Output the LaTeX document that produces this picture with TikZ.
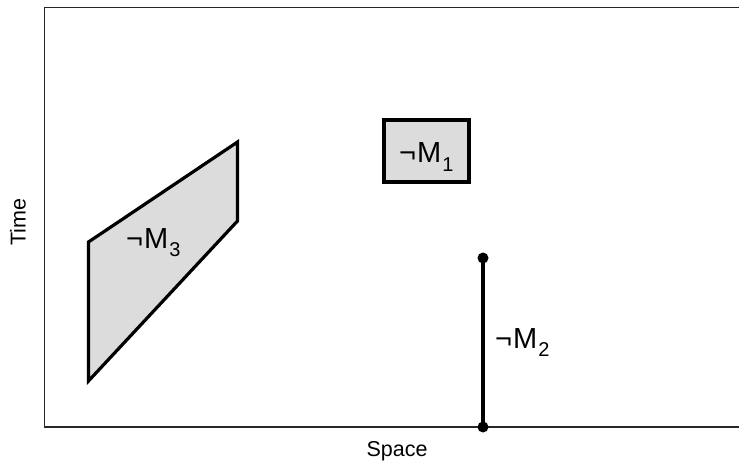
\documentclass[tikz,border=0pt]{standalone}
\usepackage{fontspec}
\setmainfont{Liberation Sans}
\usetikzlibrary{math}
\definecolor{mygray}{RGB}{220,220,220}
\newcommand{\negM}[1]{¬\kern1pt M\kern1pt\raisebox{-0.3em}{\fontsize{20}{20}\selectfont #1}}

\begin{document}
\begin{tikzpicture}[x=1pt,y=-1pt,
  region/.style={draw=black,fill=mygray,line width=3.2pt,line join=miter},
  lab/.style={anchor=base west,inner sep=0pt,font=\fontsize{29}{29}\selectfont},
  axislab/.style={inner sep=0pt,font=\fontsize{21.5}{21.5}\selectfont}]
\tikzmath{
\xl=44.5;%frame left
\yt=7.5;%frame top
\yb=427;%frame bottom
\xr=739;
}
\useasboundingbox (0,0) rectangle (739,465);

% frame
\draw[line width=1.6pt,color=black!85] (\xr,\yt) -- (\xl,\yt) -- (\xl,\yb) -- (\xr,\yb);
\node[axislab,rotate=90] (time) at (18,222) {Time};
\node[axislab] (space) at (397,451) {Space};

% region 3
\draw[region] (88.5,242) -- (237.5,142) -- (237.5,221) -- (88.5,381) -- cycle;
\node[lab] (m3) at (126,248) {\negM{3}};

% region 1
\draw[region] (384,120) rectangle (469,182);
\node[lab] (m1) at (399,163) {\negM{1}};

% region 2
\coordinate (top) at (483,258);
\coordinate (bot) at (483,427);
\draw[line width=3.2pt] (top) -- (bot);
\fill (top) circle(5.5);
\fill (bot) circle(5.5);
\node[lab] (m2) at (495,348) {\negM{2}};
\end{tikzpicture}
\end{document}
